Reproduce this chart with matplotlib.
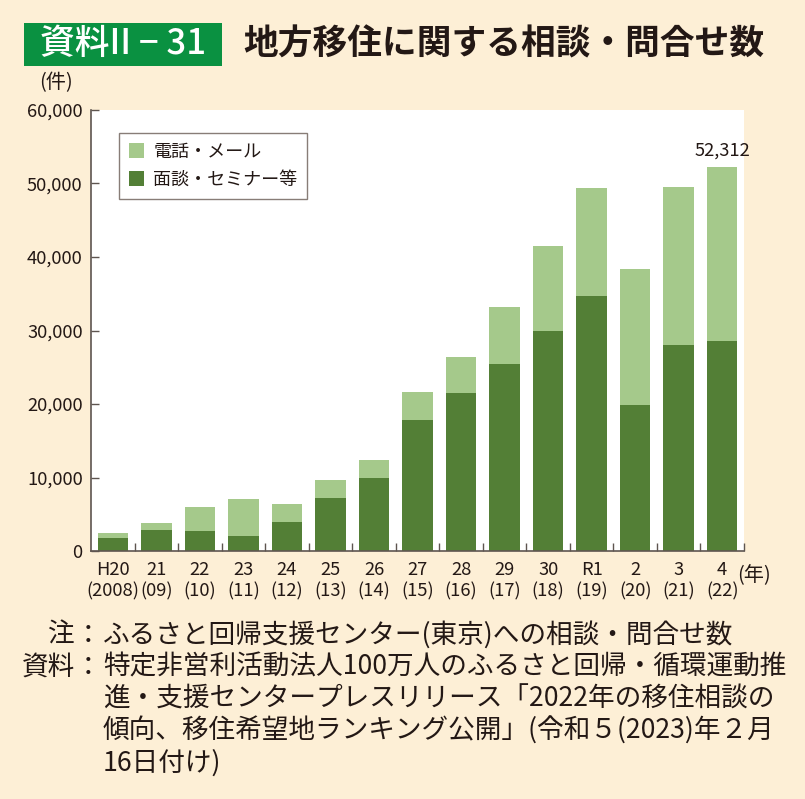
import matplotlib
matplotlib.use("Agg")
import matplotlib.pyplot as plt
from matplotlib.patches import Rectangle
from matplotlib.ticker import FuncFormatter, FixedLocator
import numpy as np

plt.rcParams['font.family'] = ['Noto Sans CJK JP', 'DejaVu Sans']

# %% data
years = ['H20\n(2008)', '21\n(09)', '22\n(10)', '23\n(11)', '24\n(12)', '25\n(13)',
         '26\n(14)', '27\n(15)', '28\n(16)', '29\n(17)', '30\n(18)', 'R1\n(19)',
         '2\n(20)', '3\n(21)', '4\n(22)']
totals = [2475, 3823, 6021, 7062, 6445, 9653, 12430, 21584, 26426, 33165,
          41518, 49401, 38330, 49514, 52312]
meeting = [1770, 2900, 2770, 2090, 4000, 7260, 9990, 17850, 21430, 25480,
           29880, 34650, 19890, 28070, 28520]
phone_mail = [t - m for t, m in zip(totals, meeting)]

# %% style
W, H = 805, 799
bg = '#fdefd6'
dark = '#537f36'
light = '#a5c98b'
txt = '#231815'
axcol = '#5e5550'
lfs = 13.2  # axis label size


def fx(x):
    return x / W


def fy(y):
    return 1 - y / H


fig = plt.figure(figsize=(W / 100, H / 100), dpi=100)
fig.patch.set_facecolor(bg)

# header
fig.add_artist(Rectangle((fx(24), fy(66)), fx(198), 43 / H, transform=fig.transFigure,
                         facecolor='#0a9141', edgecolor='none'))
fig.text(fx(123), fy(44), '資料II − 31', color='white', fontsize=25, fontweight='medium',
         ha='center', va='center')
fig.text(fx(243), fy(44), '地方移住に関する相談・問合せ数', color=txt, fontsize=25,
         fontweight='bold', ha='left', va='center')

# %% chart
ax = fig.add_axes([fx(91), fy(551), 653 / W, 441 / H])
ax.set_facecolor('white')
x = np.arange(len(years))
width = 0.70
b1 = ax.bar(x, meeting, width, color=dark, label='面談・セミナー等')
b2 = ax.bar(x, phone_mail, width, bottom=meeting, color=light, label='電話・メール')

ax.set_xlim(-0.5, len(years) - 0.5)
ax.set_ylim(0, 60000)
ax.set_yticks(np.arange(0, 60001, 10000))
ax.yaxis.set_major_formatter(FuncFormatter(lambda v, p: f'{int(v):,}'))
ax.set_xticks(x, years)
ax.xaxis.set_minor_locator(FixedLocator(np.arange(0.5, len(years), 1.0)))

for s in ['top', 'right']:
    ax.spines[s].set_visible(False)
for s in ['left', 'bottom']:
    ax.spines[s].set_color(axcol)
    ax.spines[s].set_linewidth(1.2)

ax.tick_params(axis='y', direction='in', length=6, width=1, color=axcol,
               labelsize=lfs, labelcolor=txt, pad=6)
ax.tick_params(axis='x', which='major', length=0, labelsize=lfs, labelcolor=txt, pad=7.5)
ax.tick_params(axis='x', which='minor', direction='in', length=6, width=1, color=axcol)
for lab in ax.get_xticklabels():
    lab.set_linespacing(1.2)

ax.annotate(f'{totals[-1]:,}', (x[-1], totals[-1]), xytext=(0, 5),
            textcoords='offset points', ha='center', va='bottom',
            fontsize=lfs, color=txt)

leg = ax.legend(handles=[b2, b1], loc='upper left', bbox_to_anchor=(28 / 653, 1 - 23 / 441),
                borderaxespad=0, fontsize=13, frameon=True, fancybox=False,
                handlelength=0.85, handleheight=0.85, handletextpad=0.5,
                labelspacing=0.55, borderpad=0.55, labelcolor=txt)
leg.get_frame().set_edgecolor('#6a5d55')
leg.get_frame().set_linewidth(1.0)

fig.text(fx(56), fy(83), '(件)', fontsize=14.5, color=txt, ha='center', va='center')
fig.text(fx(737), fy(576), '(年)', fontsize=14.5, color=txt, ha='left', va='center')

# %% notes
nfs = 19.2
fig.text(fx(75), fy(635), '注', fontsize=nfs, color=txt, ha='right', va='center')
fig.text(fx(75), fy(667), '資料', fontsize=nfs, color=txt, ha='right', va='center')
fig.text(fx(88), fy(635), '：', fontsize=nfs, color=txt, ha='center', va='center')
fig.text(fx(88), fy(667), '：', fontsize=nfs, color=txt, ha='center', va='center')
lines = ['ふるさと回帰支援センター(東京)への相談・問合せ数',
         '特定非営利活動法人100万人のふるさと回帰・循環運動推',
         '進・支援センタープレスリリース「2022年の移住相談の',
         '傾向、移住希望地ランキング公開」(令和５(2023)年２月',
         '16日付け)']
for i, line in enumerate(lines):
    fig.text(fx(103), fy(635 + 32 * i), line, fontsize=nfs, color=txt,
             ha='left', va='center')

fig.savefig('out.png', dpi=100, facecolor=bg)
plt.close()
